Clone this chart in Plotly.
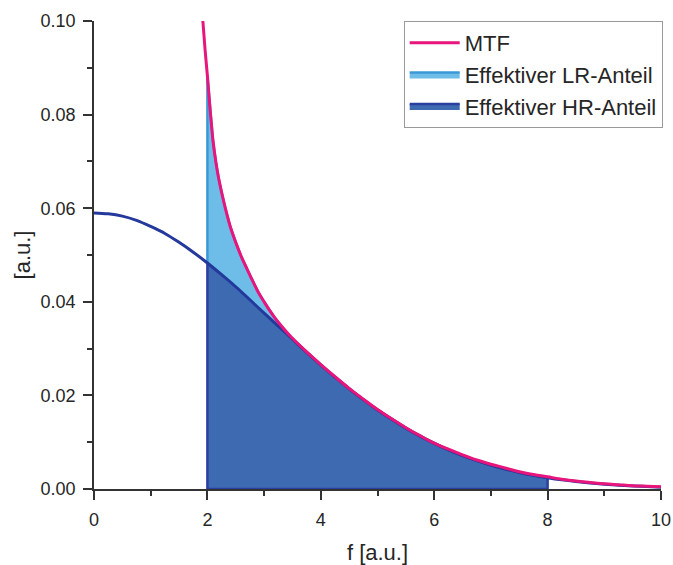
import plotly.graph_objects as go

# ---- data ----
# blue curve (HR transfer), x in [0, 10]
x_blue = [0, 0.25, 0.5, 0.75, 1.0, 1.25, 1.5, 1.75, 2.0, 2.25, 2.5, 2.75, 3.0, 3.25, 3.5,
          3.75, 4.0, 4.25, 4.5, 4.75, 5.0, 5.25, 5.5, 5.75, 6.0, 6.25, 6.5, 6.75, 7.0,
          7.25, 7.5, 7.75, 8.0, 8.25, 8.5, 8.75, 9.0, 9.25, 9.5, 9.75, 10.0]
y_blue = [0.0590, 0.0588, 0.0583, 0.0574, 0.0561, 0.0546, 0.0527, 0.0506, 0.0483, 0.0458,
          0.0432, 0.0404, 0.0376, 0.0348, 0.0320, 0.0292, 0.0265, 0.0239, 0.0214, 0.0191,
          0.0169, 0.0149, 0.0130, 0.0113, 0.00975, 0.00837, 0.00713, 0.00605, 0.00509,
          0.00426, 0.00354, 0.00293, 0.00241, 0.00196, 0.00159, 0.00128, 0.00103, 0.00082,
          0.00065, 0.00051, 0.00040]

# MTF (pink)
x_mtf = [1.92, 1.96, 2.0, 2.05, 2.1, 2.15, 2.2, 2.3, 2.4, 2.5, 2.6, 2.7, 2.8, 2.9, 3.0,
         3.1, 3.2, 3.35, 3.5, 3.75, 4.0, 4.25, 4.5, 4.75, 5.0, 5.25, 5.5, 5.75, 6.0, 6.25,
         6.5, 6.75, 7.0, 7.25, 7.5, 7.75, 8.0, 8.25, 8.5, 8.75, 9.0, 9.25, 9.5, 9.75, 10.0]
y_mtf = [0.1000, 0.0937, 0.0883, 0.0808, 0.0743, 0.0698, 0.0663, 0.0608, 0.0562, 0.0527,
         0.0496, 0.0470, 0.0444, 0.0420, 0.0400, 0.0381, 0.0364, 0.0342, 0.0322, 0.0293,
         0.0266, 0.0240, 0.0215, 0.0192, 0.0170, 0.0150, 0.0131, 0.0114, 0.0098, 0.0085,
         0.0073, 0.0062, 0.0053, 0.0045, 0.0037, 0.0031, 0.0026, 0.0021, 0.0017, 0.0014,
         0.0011, 0.0009, 0.0007, 0.0006, 0.0005]

lr_start, lr_end = 2.0, 3.5   # light-blue region (between MTF and blue curve)
hr_start, hr_end = 2.0, 8.0   # dark-blue region (under blue curve)

x_ticks = [0, 2, 4, 6, 8, 10]
y_ticks = [0.00, 0.02, 0.04, 0.06, 0.08, 0.10]

names = ["MTF", "Effektiver LR-Anteil", "Effektiver HR-Anteil"]

# ---- colours ----
PINK = "#E8157C"
BLUE_LINE = "#24399B"
HR_FILL = "#3E6AB2"
HR_EDGE = "#2A3F9E"
LR_FILL = "#6EBDE8"
LR_EDGE = "#3B98D8"
FONT = "Liberation Sans, Arial, sans-serif"
TXT = "#262626"

# ---- build polygons from the arrays ----
hr_x = [xv for xv in x_blue if hr_start <= xv <= hr_end]
hr_y = [yv for xv, yv in zip(x_blue, y_blue) if hr_start <= xv <= hr_end]
poly_hr_x = [hr_x[0]] + hr_x + [hr_x[-1], hr_x[0]]
poly_hr_y = [0] + hr_y + [0, 0]

lr_top_x = [xv for xv in x_mtf if lr_start <= xv <= lr_end]
lr_top_y = [yv for xv, yv in zip(x_mtf, y_mtf) if lr_start <= xv <= lr_end]
lr_bot_x = [xv for xv in x_blue if lr_start <= xv <= lr_end][::-1]
lr_bot_y = [yv for xv, yv in zip(x_blue, y_blue) if lr_start <= xv <= lr_end][::-1]
poly_lr_x = lr_top_x + lr_bot_x + [lr_top_x[0]]
poly_lr_y = lr_top_y + lr_bot_y + [lr_top_y[0]]

fig = go.Figure()

fig.add_trace(go.Scatter(
    x=poly_hr_x, y=poly_hr_y, mode="lines", fill="toself",
    fillcolor=HR_FILL, line=dict(color=HR_EDGE, width=2.5),
    name=names[2], legendrank=3, hoverinfo="skip"))

fig.add_trace(go.Scatter(
    x=poly_lr_x, y=poly_lr_y, mode="lines", fill="toself",
    fillcolor=LR_FILL, line=dict(color=LR_EDGE, width=2.5),
    name=names[1], legendrank=2, hoverinfo="skip"))

fig.add_trace(go.Scatter(
    x=x_blue, y=y_blue, mode="lines", line=dict(color=BLUE_LINE, width=3, shape="spline"),
    showlegend=False))

fig.add_trace(go.Scatter(
    x=x_mtf, y=y_mtf, mode="lines", line=dict(color=PINK, width=3, shape="spline"),
    name=names[0], legendrank=1))

axis_common = dict(
    showline=True, linecolor="#333333", linewidth=1.5, mirror=False,
    showgrid=False, zeroline=False, ticks="outside", ticklen=9, tickwidth=1.5,
    tickcolor="#333333", tickfont=dict(family=FONT, size=18, color=TXT),
    automargin=False,
)

fig.update_xaxes(
    range=[0, 10], tickvals=x_ticks, ticktext=[str(v) for v in x_ticks],
    minor=dict(dtick=1, tick0=0, ticks="outside", ticklen=5, tickwidth=1.5, tickcolor="#333333"),
    title=dict(text="f [a.u.]", font=dict(family=FONT, size=22, color=TXT), standoff=16),
    ticklabelstandoff=5,
    **axis_common)

fig.update_yaxes(
    range=[0, 0.1], tickvals=y_ticks, ticktext=[f"{v:.2f}" for v in y_ticks],
    minor=dict(dtick=0.01, tick0=0, ticks="outside", ticklen=5, tickwidth=1.5, tickcolor="#333333"),
    title=dict(text="[a.u.]", font=dict(family=FONT, size=22, color=TXT), standoff=4),
    ticklabelstandoff=4,
    **axis_common)

fig.update_layout(
    width=673, height=565,
    margin=dict(l=94, r=12, t=21, b=76, autoexpand=False),
    plot_bgcolor="white", paper_bgcolor="white",
    font=dict(family=FONT, color=TXT),
    legend=dict(
        x=1.003, y=1.0, xanchor="right", yanchor="top",
        bgcolor="white", bordercolor="#9A9A9A", borderwidth=1,
        font=dict(family=FONT, size=22, color=TXT),
        traceorder="normal", itemwidth=50,
    ),
    showlegend=True,
)

fig.write_html("out.html")
